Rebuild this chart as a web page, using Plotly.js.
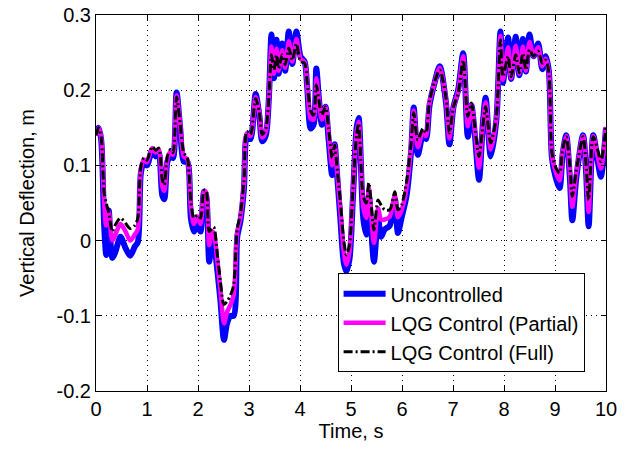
<!DOCTYPE html>
<html>
<head>
<meta charset="utf-8">
<script src="https://cdn.plot.ly/plotly-3.0.1.min.js"></script>
<style>html,body{margin:0;padding:0;background:#fff}#chart{width:631px;height:450px}</style>
</head>
<body>
<div id="chart"></div>
<script>
// Time, s
var time = [0, 0.05, 0.1, 0.16, 0.2, 0.25, 0.32, 0.38, 0.48, 0.58, 0.67, 0.76, 0.82, 0.88, 0.94, 1.0, 1.1, 1.17, 1.23, 1.3, 1.34, 1.4, 1.46, 1.51, 1.58, 1.65, 1.72, 1.79, 1.86, 1.92, 1.99, 2.05, 2.12, 2.16, 2.22, 2.28, 2.31, 2.38, 2.44, 2.51, 2.57, 2.64, 2.7, 2.77, 2.83, 2.9, 2.96, 3.03, 3.13, 3.2, 3.26, 3.33, 3.39, 3.44, 3.49, 3.54, 3.58, 3.65, 3.71, 3.78, 3.85, 3.93, 4.01, 4.09, 4.14, 4.21, 4.27, 4.32, 4.37, 4.43, 4.5, 4.56, 4.63, 4.68, 4.72, 4.79, 4.86, 4.91, 4.97, 5.04, 5.11, 5.15, 5.24, 5.3, 5.35, 5.45, 5.53, 5.59, 5.66, 5.76, 5.86, 5.92, 5.99, 6.09, 6.18, 6.23, 6.31, 6.41, 6.47, 6.54, 6.64, 6.74, 6.86, 6.93, 7.01, 7.1, 7.2, 7.29, 7.36, 7.43, 7.51, 7.59, 7.64, 7.74, 7.85, 7.93, 7.98, 8.08, 8.14, 8.23, 8.3, 8.37, 8.43, 8.5, 8.58, 8.67, 8.75, 8.82, 8.88, 8.94, 9.01, 9.09, 9.15, 9.22, 9.29, 9.34, 9.42, 9.55, 9.61, 9.66, 9.75, 9.84, 9.9, 10.0];

// Vertical deflection, m
var uncontrolled = [0.14, 0.15, 0.135, 0.02, -0.019, 0.04, -0.023, -0.015, 0.005, -0.01, -0.02, -0.008, -0.002, 0.09, 0.105, 0.1, 0.12, 0.112, 0.118, 0.06, 0.055, 0.105, 0.113, 0.11, 0.197, 0.15, 0.105, 0.105, 0.03, 0.012, 0.03, 0.012, 0.065, 0.06, -0.028, 0.007, 0.0, -0.04, -0.08, -0.132, -0.11, -0.1, -0.1, 0.005, 0.025, 0.068, 0.14, 0.135, 0.195, 0.168, 0.132, 0.14, 0.19, 0.274, 0.216, 0.267, 0.222, 0.262, 0.226, 0.278, 0.235, 0.278, 0.245, 0.238, 0.205, 0.149, 0.155, 0.229, 0.19, 0.154, 0.178, 0.135, 0.087, 0.128, 0.095, 0.03, -0.03, -0.041, -0.025, 0.06, 0.15, 0.163, 0.03, 0.008, 0.06, -0.028, 0.03, 0.005, 0.015, 0.02, 0.055, 0.01, 0.03, 0.06, 0.12, 0.177, 0.114, 0.14, 0.135, 0.18, 0.21, 0.232, 0.185, 0.128, 0.178, 0.2, 0.249, 0.138, 0.18, 0.14, 0.081, 0.16, 0.19, 0.112, 0.16, 0.278, 0.21, 0.27, 0.215, 0.271, 0.22, 0.268, 0.225, 0.274, 0.245, 0.262, 0.228, 0.245, 0.225, 0.11, 0.085, 0.07, 0.115, 0.14, 0.085, 0.027, 0.085, 0.14, 0.09, 0.019, 0.14, 0.105, 0.085, 0.15];

var lqgPartial = [0.14, 0.15, 0.137, 0.05, 0.02, 0.038, 0.0, 0.008, 0.022, 0.012, 0.0, 0.008, 0.015, 0.095, 0.108, 0.104, 0.123, 0.117, 0.121, 0.072, 0.066, 0.109, 0.118, 0.114, 0.193, 0.154, 0.112, 0.108, 0.045, 0.022, 0.032, 0.022, 0.066, 0.064, -0.006, 0.012, 0.01, -0.028, -0.066, -0.11, -0.095, -0.085, -0.072, 0.012, 0.03, 0.074, 0.143, 0.139, 0.191, 0.17, 0.137, 0.145, 0.19, 0.258, 0.222, 0.255, 0.226, 0.253, 0.23, 0.265, 0.238, 0.268, 0.242, 0.237, 0.208, 0.162, 0.161, 0.216, 0.188, 0.161, 0.178, 0.143, 0.1, 0.127, 0.098, 0.042, -0.015, -0.032, -0.015, 0.066, 0.145, 0.158, 0.045, 0.03, 0.07, -0.003, 0.043, 0.028, 0.028, 0.032, 0.06, 0.031, 0.04, 0.07, 0.126, 0.173, 0.124, 0.145, 0.139, 0.183, 0.21, 0.23, 0.188, 0.136, 0.178, 0.198, 0.245, 0.152, 0.181, 0.145, 0.097, 0.157, 0.184, 0.121, 0.162, 0.272, 0.214, 0.257, 0.216, 0.259, 0.222, 0.258, 0.226, 0.264, 0.245, 0.257, 0.232, 0.242, 0.224, 0.113, 0.092, 0.08, 0.118, 0.139, 0.092, 0.045, 0.09, 0.139, 0.095, 0.038, 0.139, 0.111, 0.096, 0.151];

var lqgFull = [0.14, 0.15, 0.138, 0.063, 0.05, 0.037, 0.012, 0.021, 0.03, 0.023, 0.016, 0.02, 0.03, 0.098, 0.11, 0.107, 0.125, 0.12, 0.123, 0.081, 0.074, 0.112, 0.121, 0.117, 0.191, 0.156, 0.117, 0.11, 0.052, 0.03, 0.034, 0.03, 0.067, 0.066, 0.012, 0.017, 0.018, -0.019, -0.055, -0.085, -0.081, -0.072, -0.059, 0.016, 0.034, 0.078, 0.145, 0.141, 0.189, 0.172, 0.141, 0.149, 0.19, 0.247, 0.227, 0.247, 0.229, 0.247, 0.234, 0.256, 0.24, 0.262, 0.238, 0.236, 0.211, 0.172, 0.167, 0.207, 0.187, 0.167, 0.178, 0.149, 0.11, 0.127, 0.101, 0.052, -0.001, -0.019, -0.006, 0.07, 0.141, 0.156, 0.059, 0.05, 0.077, 0.014, 0.054, 0.047, 0.041, 0.041, 0.065, 0.041, 0.047, 0.078, 0.13, 0.17, 0.134, 0.149, 0.143, 0.185, 0.211, 0.227, 0.191, 0.143, 0.178, 0.196, 0.24, 0.165, 0.183, 0.15, 0.112, 0.155, 0.178, 0.13, 0.165, 0.267, 0.218, 0.245, 0.218, 0.247, 0.223, 0.249, 0.227, 0.254, 0.245, 0.252, 0.236, 0.24, 0.223, 0.117, 0.098, 0.09, 0.121, 0.138, 0.1, 0.059, 0.094, 0.138, 0.1, 0.054, 0.138, 0.12, 0.105, 0.152];

var seriesNames = ['Uncontrolled', 'LQG Control (Partial)', 'LQG Control (Full)'];
var xTickVals = [0, 1, 2, 3, 4, 5, 6, 7, 8, 9, 10];
var xTickText = ['0', '1', '2', '3', '4', '5', '6', '7', '8', '9', '10'];
var yTickVals = [-0.2, -0.1, 0, 0.1, 0.2, 0.3];
var yTickText = ['-0.2', '-0.1', '0', '0.1', '0.2', '0.3'];

var FONT = 'Liberation Sans, Arial, Helvetica, sans-serif';

var traces = [
  {x: time, y: uncontrolled, name: seriesNames[0], type: 'scatter', mode: 'lines',
   line: {color: '#0000ff', width: 6, shape: 'spline', smoothing: 0.8}},
  {x: time, y: lqgPartial, name: seriesNames[1], type: 'scatter', mode: 'lines',
   line: {color: '#ff00ff', width: 4.5, shape: 'spline', smoothing: 0.8}},
  {x: time, y: lqgFull, name: seriesNames[2], type: 'scatter', mode: 'lines',
   line: {color: '#000000', width: 3, dash: '9px,3px,2px,3px', shape: 'spline', smoothing: 0.8}}
];

var axisCommon = {
  showline: true, linecolor: '#000', linewidth: 1, mirror: 'allticks',
  ticks: 'inside', ticklen: 5, tickcolor: '#000', tickwidth: 1,
  showgrid: true, gridcolor: '#000', gridwidth: 1, griddash: '1px,4px',
  zeroline: false, tickfont: {family: FONT, size: 20, color: '#000'}
};

var layout = {
  width: 631, height: 450,
  margin: {l: 96, r: 24.5, t: 15, b: 59},
  paper_bgcolor: '#fff', plot_bgcolor: '#fff',
  showlegend: true,
  legend: {x: 0.958, y: 0.05, xanchor: 'right', yanchor: 'bottom',
           bgcolor: '#fff', bordercolor: '#000', borderwidth: 1, itemwidth: 42,
           font: {family: FONT, size: 20, color: '#000'}, tracegroupgap: 0},
  xaxis: Object.assign({}, axisCommon, {
    range: [0, 10], tickvals: xTickVals, ticktext: xTickText,
    title: {text: 'Time, s', font: {family: FONT, size: 20, color: '#000'}, standoff: 0}
  }),
  yaxis: Object.assign({}, axisCommon, {
    range: [-0.2, 0.3], tickvals: yTickVals, ticktext: yTickText,
    title: {text: 'Vertical Deflection, m', font: {family: FONT, size: 20, color: '#000'}, standoff: 16}
  })
};

Plotly.newPlot('chart', traces, layout, {displayModeBar: false, staticPlot: true});
</script>
</body>
</html>
